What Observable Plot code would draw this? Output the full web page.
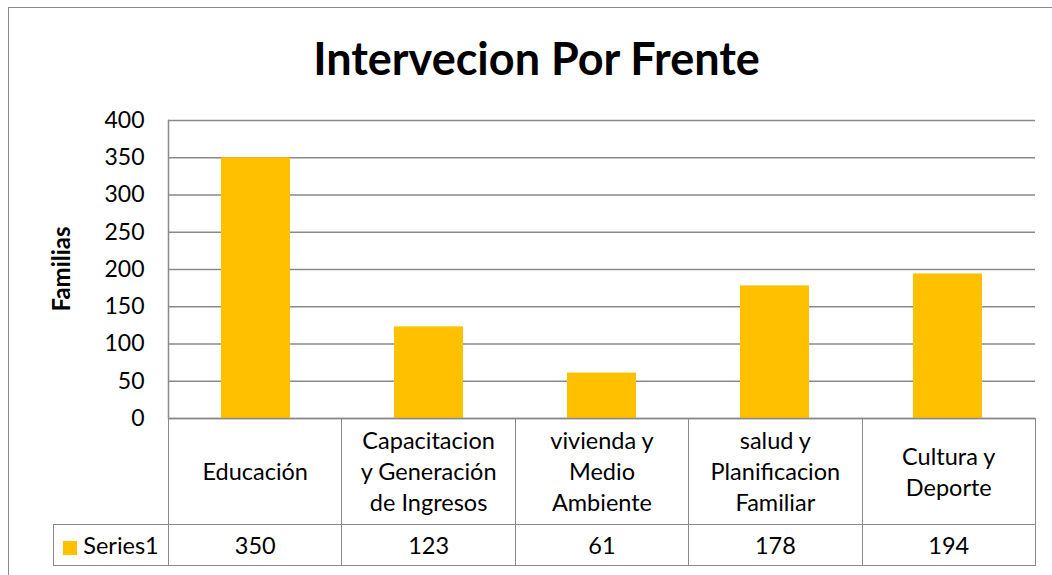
<!DOCTYPE html>
<html>
<head>
<meta charset="utf-8">
<script src="https://cdn.jsdelivr.net/npm/d3@7"></script>
<script src="https://cdn.jsdelivr.net/npm/@observablehq/plot@0.6"></script>
<style>
  html, body { margin: 0; padding: 0; background: #fff; overflow: hidden; }
  body { width: 1052px; height: 575px; position: relative; font-family: Lato, "Open Sans", sans-serif; }
  #frame { position: absolute; left: 8px; top: 7px; width: 1100px; height: 620px; border: 1.5px solid #8a8a8a; box-sizing: border-box; }
  #title { position: absolute; left: 0; top: 30px; width: 1073px; text-align: center; font-weight: bold; font-size: 45px; line-height: 56px; color: #000; }
  #ylabel { position: absolute; left: 60px; top: 269px; transform: translate(-50%, -50%) rotate(-90deg); font-weight: bold; font-size: 24px; white-space: nowrap; color: #000; }
  #chart { position: absolute; left: 0; top: 0; }
  #table { position: absolute; left: 53px; top: 418px; border-collapse: collapse; table-layout: fixed; font-size: 23.5px; color: #000; }
  #table td { border: 1.5px solid #8a8a8a; text-align: center; vertical-align: middle; padding: 0; }
  #table td.blank { border-top: none; border-left: none; }
  #table tr.head td { height: 105px; line-height: 31px; white-space: pre-line; }
  #table tr.vals td { height: 40px; }
  .key { display: inline-block; width: 14px; height: 14px; background: #FFC000; margin-right: 6px; vertical-align: -1px; }
</style>
</head>
<body>
<div id="frame"></div>
<div id="chart"></div>
<div id="title"></div>
<div id="ylabel"></div>
<table id="table"></table>
<script>
const chartTitle = "Intervecion Por Frente";
const yLabel = "Familias";
const seriesName = "Series1";
const categories = [
  "Educación",
  "Capacitacion\ny Generación\nde Ingresos",
  "vivienda y\nMedio\nAmbiente",
  "salud y\nPlanificacion\nFamiliar",
  "Cultura y\nDeporte"
];
const values = [350, 123, 61, 178, 194];
const yTicks = [0, 50, 100, 150, 200, 250, 300, 350, 400];

const data = categories.map((c, i) => ({category: c, value: values[i]}));

document.getElementById("title").textContent = chartTitle;
document.getElementById("ylabel").textContent = yLabel;

const plot = Plot.plot({
  width: 1052,
  height: 430,
  marginLeft: 168,
  marginRight: 17,
  marginTop: 120,
  marginBottom: 12,
  style: {fontFamily: "Lato, 'Open Sans', sans-serif", fontSize: "23px", color: "#000", background: "transparent"},
  x: {domain: categories, paddingInner: 0.6, paddingOuter: 0.3, axis: null},
  y: {domain: [0, 400], ticks: yTicks},
  marks: [
    Plot.gridY(yTicks, {stroke: "#8a8a8a", strokeOpacity: 1, strokeWidth: 1.5}),
    Plot.barY(data, {x: "category", y: "value", fill: "#FFC000"}),
    Plot.ruleY([0], {stroke: "#8a8a8a", strokeWidth: 1.5}),
    Plot.axisY(yTicks, {tickSize: 0, tickPadding: 24, fontSize: 23, label: null}),
    Plot.frame({anchor: "left", stroke: "#8a8a8a", strokeWidth: 1.5})
  ]
});
document.getElementById("chart").appendChild(plot);

// data table (acts as x axis + legend)
const table = document.getElementById("table");
const colgroup = document.createElement("colgroup");
const c0 = document.createElement("col"); c0.style.width = "115px"; colgroup.appendChild(c0);
categories.forEach(() => { const c = document.createElement("col"); c.style.width = "173.4px"; colgroup.appendChild(c); });
table.appendChild(colgroup);
const head = document.createElement("tr"); head.className = "head";
const blank = document.createElement("td"); blank.className = "blank"; head.appendChild(blank);
categories.forEach(c => { const td = document.createElement("td"); td.textContent = c; head.appendChild(td); });
table.appendChild(head);
const row = document.createElement("tr"); row.className = "vals";
const lab = document.createElement("td");
lab.innerHTML = '<span class="key"></span>';
lab.appendChild(document.createTextNode(seriesName));
row.appendChild(lab);
values.forEach(v => { const td = document.createElement("td"); td.textContent = v; row.appendChild(td); });
table.appendChild(row);
</script>
</body>
</html>
